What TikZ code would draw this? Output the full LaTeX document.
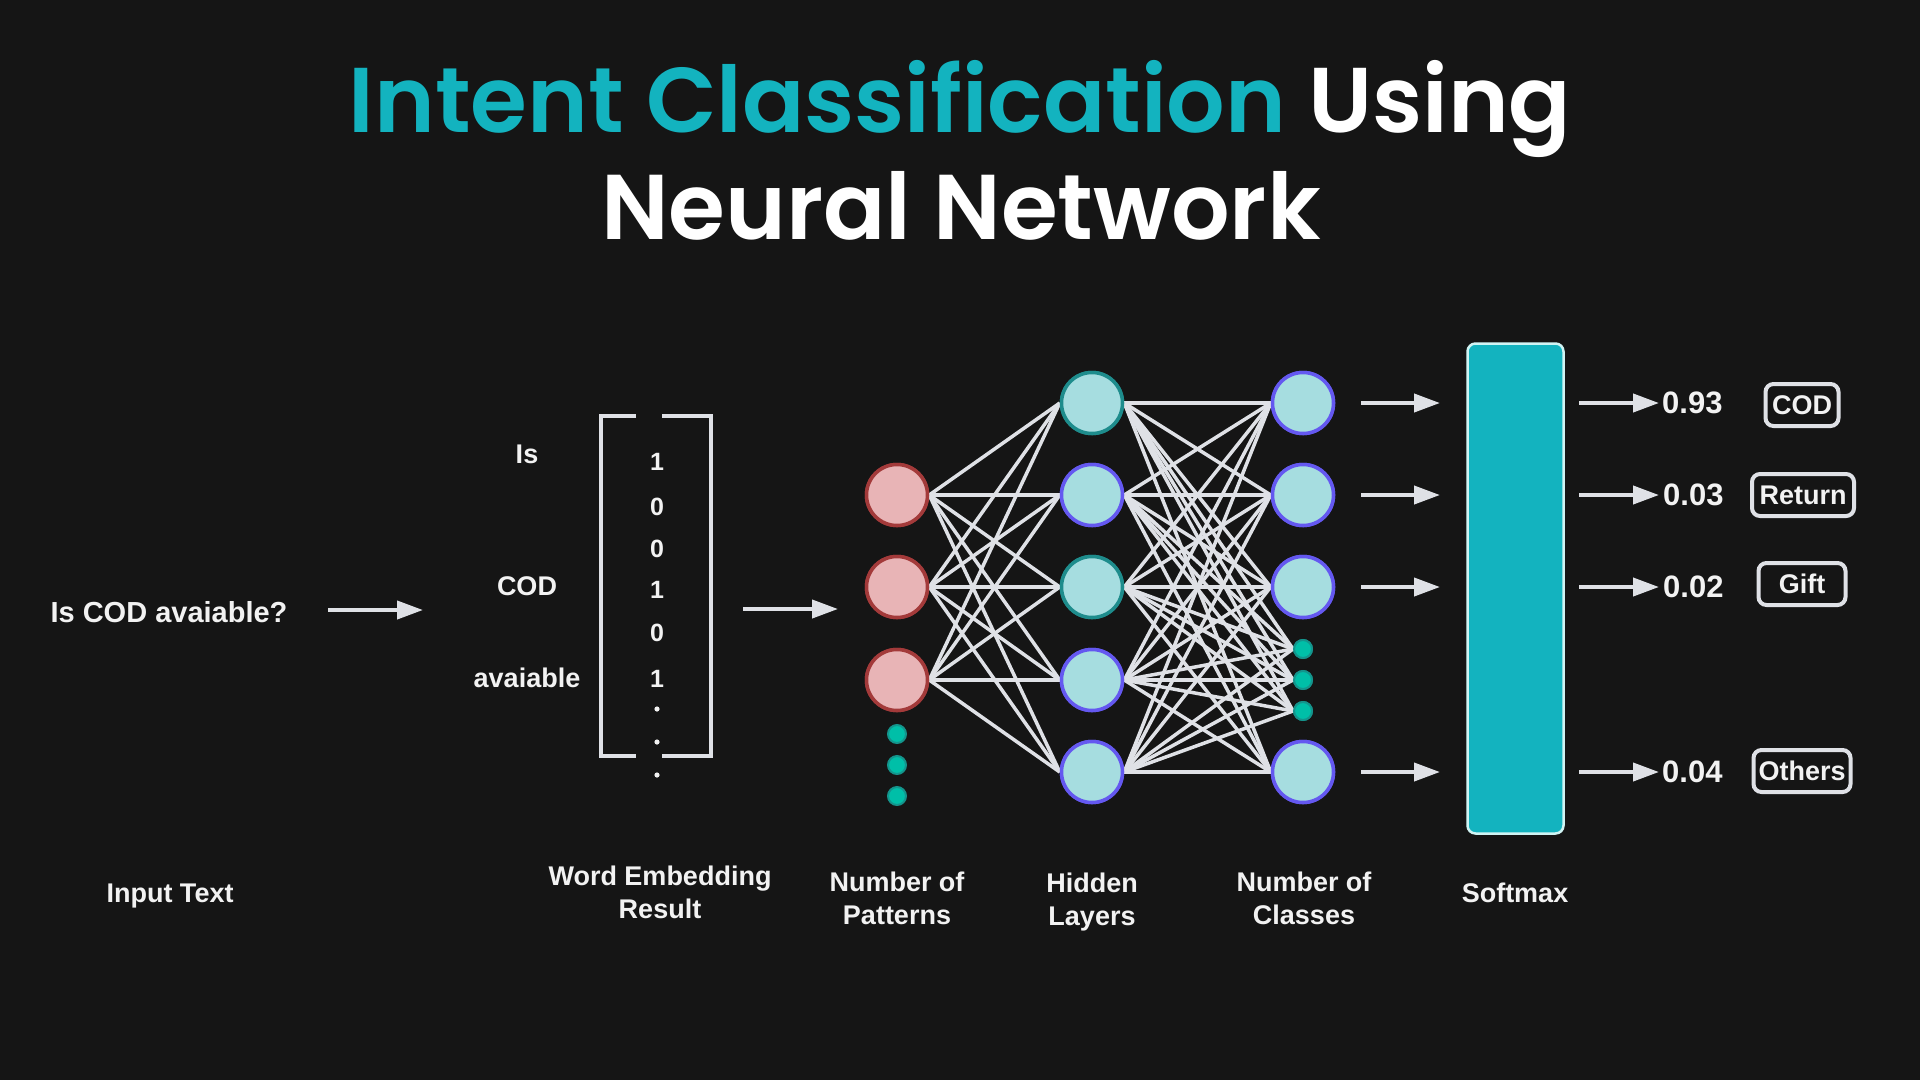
\documentclass[tikz,border=0pt]{standalone}
\usepackage{fontspec}
\setmainfont{Liberation Sans}
\newfontfamily\titlefont{Poppins SemiBold}
\usetikzlibrary{arrows.meta}
\definecolor{bg}{HTML}{151515}
\definecolor{teal}{HTML}{13B3BF}
\definecolor{linec}{HTML}{DFE1E6}
\definecolor{txt}{HTML}{F2F2F2}
\definecolor{redfill}{HTML}{E8B4B6}
\definecolor{redline}{HTML}{A33A3A}
\definecolor{cyanfill}{HTML}{A6DDE0}
\definecolor{tealline}{HTML}{1E8C8C}
\definecolor{blueline}{HTML}{6458F0}
\definecolor{dotfill}{HTML}{00BFA8}
\definecolor{dotline}{HTML}{14948C}
\definecolor{smline}{HTML}{D0F4F4}
\tikzset{
  lbl/.style={text=txt, font=\bfseries\fontsize{27}{33}\selectfont, inner sep=0pt, align=center},
  neuron/.style={circle, minimum size=61pt, inner sep=0pt, line width=3.5pt},
  redn/.style={neuron, fill=redfill, draw=redline},
  hidt/.style={neuron, fill=cyanfill, draw=tealline},
  hidb/.style={neuron, fill=cyanfill, draw=blueline},
  sdot/.style={circle, minimum size=18pt, inner sep=0pt, fill=dotfill, draw=dotline, line width=2pt},
  wire/.style={draw=linec, line width=3.5pt},
  arr/.style={draw=linec, line width=4pt, -{Triangle[length=26pt, width=18pt]}},
  classbox/.style={draw=linec, line width=4pt, rounded corners=8pt, minimum height=42pt, text=txt, font=\bfseries\fontsize{27}{33}\selectfont, inner sep=0pt},
  val/.style={text=txt, font=\bfseries\fontsize{31}{36}\selectfont, inner sep=0pt},
  num/.style={text=txt, font=\bfseries\fontsize{25}{30}\selectfont, inner sep=0pt, anchor=base},
}
\begin{document}
\begin{tikzpicture}[x=1pt, y=-1pt]
\path[fill=bg, use as bounding box] (0,0) rectangle (1920,1080);

% title
\node[anchor=base, inner sep=0pt, font=\titlefont\fontsize{92}{100}\selectfont] (t1) at (960,132) {\textcolor{teal}{Intent Classification} \textcolor{white}{Using}};
\node[anchor=base, inner sep=0pt, text=white, font=\titlefont\fontsize{92}{100}\selectfont] (t2) at (961,239) {Neural Network};

% input text
\node[lbl, anchor=base, font=\bfseries\fontsize{29}{34}\selectfont] (inp) at (169,622) {Is COD avaiable?};
\node[lbl, anchor=base] (inlbl) at (170,902) {Input Text};
\coordinate (a1s) at (328,610);
\coordinate (a1e) at (423,610);
\draw[arr] (a1s) -- (a1e);

% word embedding
\node[lbl, anchor=base] (wIs) at (527,463) {Is};
\node[lbl, anchor=base] (wCOD) at (527,595) {COD};
\node[lbl, anchor=base] (wav) at (527,687) {avaiable};
\draw[linec, line width=4pt] (636,416) -- (601,416) -- (601,756) -- (636,756);
\draw[linec, line width=4pt] (662,416) -- (711,416) -- (711,756) -- (662,756);
\node[num] (n1) at (657,470) {1};
\node[num] (n2) at (657,515) {0};
\node[num] (n3) at (657,557) {0};
\node[num] (n4) at (657,598) {1};
\node[num] (n5) at (657,641) {0};
\node[num] (n6) at (657,687) {1};
\foreach \yy in {709,742,775} \fill[txt] (657,\yy) circle (2.6pt);
\node[lbl] (welbl) at (660,892) {Word Embedding\\Result};
\coordinate (a2s) at (743,609);
\coordinate (a2e) at (838,609);
\draw[arr] (a2s) -- (a2e);

% layers
\node[redn] (p1) at (897,495) {};
\node[redn] (p2) at (897,587) {};
\node[redn] (p3) at (897,680) {};
\node[sdot] (pd1) at (897,734) {};
\node[sdot] (pd2) at (897,765) {};
\node[sdot] (pd3) at (897,796) {};

\node[hidt] (h1) at (1092,403) {};
\node[hidb] (h2) at (1092,495) {};
\node[hidt] (h3) at (1092,587) {};
\node[hidb] (h4) at (1092,680) {};
\node[hidb] (h5) at (1092,772) {};

\node[hidb] (o1) at (1303,403) {};
\node[hidb] (o2) at (1303,495) {};
\node[hidb] (o3) at (1303,587) {};
\node[sdot] (od1) at (1303,649) {};
\node[sdot] (od2) at (1303,680) {};
\node[sdot] (od3) at (1303,711) {};
\node[hidb] (o4) at (1303,772) {};

\foreach \p in {p1,p2,p3}
  \foreach \h in {h1,h2,h3,h4,h5}
    \draw[wire] (\p.east) -- (\h.west);
\foreach \h in {h1,h2,h3,h4,h5}{
  \foreach \o in {o1,o2,o3,o4}
    \draw[wire] (\h.east) -- (\o.west);
  \foreach \o in {od1,od2,od3}
    \draw[wire] (\h.east) -- (\o.west);
}
% redraw nodes on top
\node[redn] at (p1) {};
\node[redn] at (p2) {};
\node[redn] at (p3) {};
\node[hidt] at (h1) {};
\node[hidb] at (h2) {};
\node[hidt] at (h3) {};
\node[hidb] at (h4) {};
\node[hidb] at (h5) {};
\node[hidb] at (o1) {};
\node[hidb] at (o2) {};
\node[hidb] at (o3) {};
\node[hidb] at (o4) {};
\node[sdot] at (od1) {};
\node[sdot] at (od2) {};
\node[sdot] at (od3) {};

\node[lbl] (plbl) at (897,898) {Number of\\Patterns};
\node[lbl] (hlbl) at (1092,902) {Hidden\\Layers};
\node[lbl] (clbl) at (1304,898) {Number of\\Classes};

% softmax
\node[fill=teal, draw=smline, line width=2.5pt, rounded corners=8pt, minimum width=96pt, minimum height=490pt, inner sep=0pt] (sm) at (1515.5,588.5) {};
\node[lbl, anchor=base] (smlbl) at (1515,902) {Softmax};
\foreach \i/\yy in {1/403,2/495,3/587,4/772}{
  \coordinate (si\i) at (1361,\yy);
  \coordinate (se\i) at (1440,\yy);
  \draw[arr] (si\i) -- (se\i);
  \coordinate (ri\i) at (1579,\yy);
  \coordinate (re\i) at (1659,\yy);
  \draw[arr] (ri\i) -- (re\i);
}
\node[val, anchor=west] (v1) at (1662,403) {0.93};
\node[val, anchor=west] (v2) at (1663,495) {0.03};
\node[val, anchor=west] (v3) at (1663,587) {0.02};
\node[val, anchor=west] (v4) at (1662,772) {0.04};

\node[classbox, minimum width=73pt] (c1) at (1802,405) {COD};
\node[classbox, minimum width=102pt] (c2) at (1803,495) {Return};
\node[classbox, minimum width=87pt] (c3) at (1802,584) {Gift};
\node[classbox, minimum width=97pt] (c4) at (1802,771) {Others};
\end{tikzpicture}
\end{document}
